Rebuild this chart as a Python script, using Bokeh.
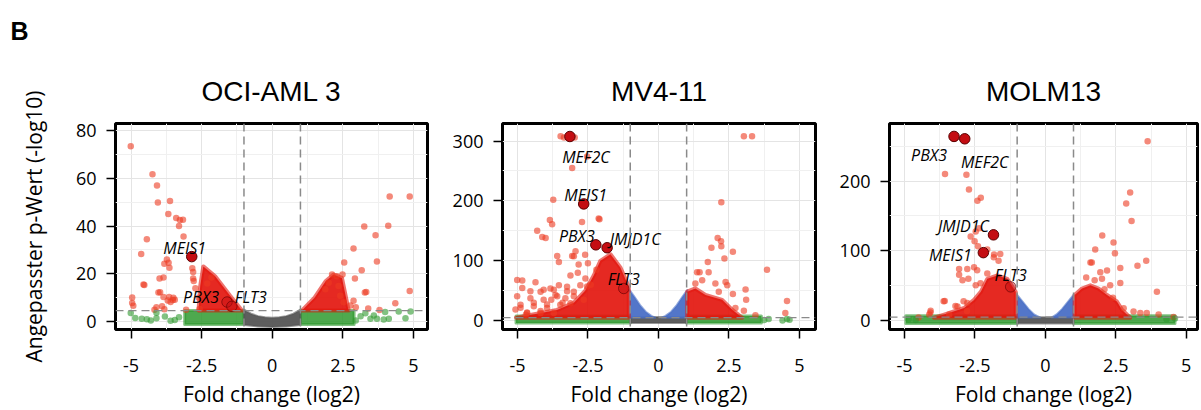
from bokeh.plotting import figure
from bokeh.models import FixedTicker, Span, Title, ColumnDataSource, Range1d
from bokeh.layouts import row
from bokeh.embed import file_html
from bokeh.resources import INLINE
from bokeh.core.properties import value

# ---------------- data ----------------
panel_letter = "B"
panel_titles = ["OCI-AML 3", "MV4-11", "MOLM13"]
x_label = "Fold change (log2)"
y_label = "Angepasster p-Wert (-log10)"
x_ticks = [-5, -2.5, 0, 2.5, 5]
x_tick_labels = ["-5", "-2.5", "0", "2.5", "5"]
x_minor = [-3.75, -1.25, 1.25, 3.75]
oci_y_ticks = [0, 20, 40, 60, 80]
oci_y_minor = [10, 30, 50, 70]
mv4_y_ticks = [0, 100, 200, 300]
mv4_y_minor = [50, 150, 250]
molm_y_ticks = [0, 100, 200]
molm_y_minor = [50, 150, 250]
fc_cutoff = 1.0
p_cutoff = [4.6, 5.0, 5.0]

# OCI-AML 3 : significant single points (fold change, -log10 p)
oci_sig_fc = [-5.01, -4.24, -4.08, -4.05, -3.62, -3.68, -3.40, -3.27, -3.16, -3.30,
              -4.44, -4.64, -3.82, -3.64, -2.80, -2.80, -3.99, -4.53, -4.03, -3.85,
              -3.65, -3.50, -3.45, -4.96, -4.96, -4.10, -3.90, -3.14, -3.73, -3.67,
              -3.85, -4.56, -3.97, -3.70, -3.60, -3.52, -4.92, -4.17, -3.82, -3.05,
              -2.57, -2.83, -2.78, -2.72, -2.60, -2.45, -2.30, -2.15,
              4.16, 4.87, 3.26, 4.11, 3.66, 2.88, 2.55, 3.71, 3.17, 2.93,
              2.49, 3.33, 3.28, 4.87, 2.88, 4.36, 3.40, 2.96, 3.80, 2.12,
              2.29, 2.35, 2.41, 2.53, 2.77, 2.00, 1.88]
oci_sig_p = [73.4, 61.7, 57.0, 49.8, 50.5, 45.0, 43.4, 42.5, 42.6, 40.0,
             34.5, 28.3, 24.2, 22.5, 20.8, 18.0, 18.0, 15.3, 12.2, 10.3,
             10.3, 10.0, 9.2, 10.1, 7.8, 6.0, 6.4, 35.6, 26.0, 24.6,
             18.5, 15.5, 12.3, 8.8, 8.2, 9.0, 6.6, 5.0, 5.2, 5.0,
             5.3, 22.3, 17.0, 14.0, 10.0, 12.0, 16.0, 18.5,
             52.4, 52.4, 39.8, 40.1, 36.1, 30.6, 24.7, 25.2, 21.5, 18.0,
             19.7, 12.4, 12.2, 12.8, 8.7, 7.7, 5.5, 6.0, 4.9, 19.7,
             19.0, 14.9, 10.8, 8.1, 6.7, 16.3, 13.5]
oci_ns_fc = [-5.01, -4.85, -4.62, -4.44, -4.10, -4.10, -3.80, -3.45, -3.30, -3.60, -4.30,
             3.48, 3.71, 3.95, 4.13, 4.48, 4.72, 4.90, 3.13, 2.96, 3.30, 3.60, 4.00]
oci_ns_p = [3.6, 1.5, 1.2, 1.0, 1.4, 3.7, 2.1, 0.7, 1.8, 0.4, 0.5,
            1.2, 1.2, 0.9, 1.2, 4.2, 1.4, 4.2, 2.2, 0.5, 3.5, 2.6, 4.0]
# OCI-AML 3 : outlines of the densely packed point clouds
oci_red_left_x = [-2.44, -2.02, -1.49, -1.07, -2.61, -2.55]
oci_red_left_y = [23.1, 19.0, 10.8, 4.6, 4.6, 14.9]
oci_red_right_x = [1.05, 1.50, 1.90, 2.17, 2.47, 2.71]
oci_red_right_y = [4.6, 10.0, 17.0, 19.7, 18.3, 4.6]
oci_green_left_x = [-3.1, -1.0, -1.0, -3.1]
oci_green_right_x = [1.0, 2.9, 2.9, 1.0]
oci_green_y = [-1.2, -1.2, 4.6, 4.6]
oci_grey_x = [-1.0, -0.75, -0.5, -0.25, 0.0, 0.25, 0.5, 0.75, 1.0, 1.0, 0.5, 0.0, -0.5, -1.0]
oci_grey_y = [5.0, 3.3, 2.3, 1.8, 1.6, 1.8, 2.3, 3.3, 5.0, -1.4, -2.0, -2.3, -2.0, -1.4]
oci_genes = ["MEIS1", "PBX3", "FLT3"]
oci_gene_fc = [-2.85, -1.60, -1.43]
oci_gene_p = [27.2, 8.2, 6.4]

# MV4-11
mv4_sig_fc = [-3.47, -3.35, -2.97, -2.53, -3.06, -3.73, -2.12, -3.85, -3.77, -4.30,
              -4.12, -3.59, -3.53, -3.06, -2.94, -3.12, -2.86, -4.83, -4.36, -2.71,
              -2.09, -4.00, -3.00, -2.83, -2.60, -2.50, -2.59, -2.53, -5.01, -4.83,
              -5.01, -4.54, -4.07, -3.71, -3.59, -3.24, -3.00, -4.42, -3.95, -4.89,
              -4.66, -4.18, -3.40, -3.80, -4.70, -2.40, -2.20,
              -4.18, -3.83, -3.53, -3.24, -4.54, -4.07, -3.65, -3.30, -3.00, -2.77,
              -4.89, -4.42, -3.95, -3.48, -3.12, -2.65, -4.18, -3.71, -4.66, -5.07,
              3.03, 3.32, 2.23, 2.10, 2.22, 2.23, 1.88, 2.64, 2.34, 1.75,
              3.85, 1.37, 1.46, 1.78, 1.31, 1.55, 2.02, 2.14, 2.38, 2.44,
              2.64, 3.09, 3.11, 4.56, 3.03, 3.44, 4.50, 2.73]
mv4_sig_p = [308, 306, 306, 274, 255, 202, 170.7, 168, 161, 150,
             139.7, 108, 98, 108, 116, 75.5, 80, 67, 64, 164.7,
             169.6, 138, 107.6, 94, 110, 96, 70.6, 57, 68, 54.4,
             40.8, 49, 51.6, 51.6, 40.8, 49, 40.8, 30, 27, 21.7,
             13.6, 16.3, 30, 35, 10, 60, 85,
             48.4, 53.8, 59.2, 56.5, 37.5, 34.8, 43, 37.5, 48.4, 59.2,
             26.6, 24, 21.2, 26.6, 29.3, 34.8, 13, 13, 13, 18.5,
             308, 308, 198, 138, 132.6, 124.4, 121.8, 115, 103.8, 98,
             85, 81, 81, 81, 62, 67.4, 62, 48.4, 64.7, 59.2,
             44.5, 52.2, 34.8, 33.1, 16.8, 9.2, 13, 21]
mv4_ns_fc = [3.91, 4.56, 4.65, 3.75, 4.40]
mv4_ns_p = [2.7, 2.7, 1.5, 1.0, 0.5]
mv4_red_left_x = [-1.05, -1.05, -1.35, -1.70, -2.06, -2.30, -2.60, -3.00, -3.60, -4.50, -5.05]
mv4_red_left_y = [5, 56.5, 89, 111, 100, 75, 50, 30, 18, 10, 5]
mv4_red_right_x = [1.02, 1.02, 1.31, 1.67, 2.26, 2.61, 2.97]
mv4_red_right_y = [5, 48.4, 53.8, 43, 34.8, 18.5, 5]
mv4_blue_left_x = [-1.02, -1.02, -0.85, -0.65, -0.45, -0.25, -0.12]
mv4_blue_left_y = [5, 51, 40, 26, 15, 8, 5]
mv4_blue_right_x = [0.12, 0.25, 0.45, 0.65, 0.85, 1.02, 1.02]
mv4_blue_right_y = [5, 8, 15, 26, 40, 51, 5]
mv4_grey_x = [-1.0, 1.0, 1.0, -1.0]
mv4_grey_y = [-4, -4, 6, 6]
mv4_green_left_x = [-5.05, -1.0, -1.0, -5.05]
mv4_green_right_x = [1.0, 3.65, 3.65, 1.0]
mv4_green_y = [-4, -4, 8, 8]
mv4_genes = ["MEF2C", "MEIS1", "PBX3", "JMJD1C", "FLT3"]
mv4_gene_fc = [-3.14, -2.65, -2.22, -1.82, -1.23]
mv4_gene_p = [307.6, 195, 126.7, 121.8, 53.8]

# MOLM13
molm_sig_fc = [-3.56, -2.80, -2.71, -2.41, -2.29, -2.47, -2.35, -2.65, -2.51, -2.39,
               -2.06, -1.82, -3.06, -3.06, -2.77, -2.53, -2.94, -2.73, -2.47, -3.57,
               -3.12, -2.77, -4.07, -4.12, -3.41, -3.61, -3.19, -2.78, -4.50, -4.08,
               -2.30, -2.06, -2.42, -1.66, -1.60, -1.83, -2.90,
               3.63, 3.01, 2.87, 3.06, 2.02, 2.42, 1.77, 2.47, 1.60, 1.65,
               2.66, 3.27, 3.58, 1.95, 2.19, 2.66, 2.30, 2.01, 3.96, 2.78,
               3.37, 3.60, 4.02, 4.55, 3.13, 1.45, 1.75, 2.10, 2.40]
molm_sig_p = [210, 209, 188, 172, 176, 127.7, 132.4, 120.7, 113.7, 106.7,
              102, 95, 74, 65.7, 74, 76.5, 57.8, 60, 50.8, 28.4,
              20.5, 25.2, 14.4, 8.8, 8.8, 28, 21, 14, 4.7, 11.7,
              53.5, 67.5, 72.3, 86, 95.5, 91, 28,
              257, 183.6, 168, 143, 122, 112, 102, 96.5, 83.5, 83.5,
              75.5, 78.8, 85.8, 69.5, 71.8, 54, 50.8, 60, 41.4, 18,
              11, 11, 8.8, 5.2, 13.3, 62, 58, 45, 33]
molm_ns_fc = [-4.85, -4.60, 4.60, 4.30]
molm_ns_p = [2.0, 1.0, 3.0, 2.0]
molm_red_left_x = [-1.05, -1.05, -1.35, -1.70, -2.06, -2.29, -2.53, -2.88, -3.59, -3.95]
molm_red_left_y = [4.2, 41.4, 60, 64.8, 60, 41.4, 29.8, 18.2, 8.8, 4.2]
molm_red_right_x = [1.04, 1.04, 1.30, 1.60, 1.89, 2.19, 2.54, 2.72, 3.01]
molm_red_right_y = [4.2, 36.8, 46, 50.8, 46, 36.8, 27.5, 15.8, 4.2]
molm_blue_left_x = [-1.0, -1.0, -0.8, -0.6, -0.4, -0.18]
molm_blue_left_y = [4.5, 37, 27, 17, 9, 4.5]
molm_blue_right_x = [0.22, 0.4, 0.6, 0.8, 1.0, 1.0]
molm_blue_right_y = [4.5, 9, 17, 27, 37, 4.5]
molm_grey_x = [-1.0, 1.0, 1.0, -1.0]
molm_grey_y = [-4, -4, 5, 5]
molm_green_left_x = [-4.95, -1.0, -1.0, -4.95]
molm_green_right_x = [1.0, 4.6, 4.6, 1.0]
molm_green_y = [-4, -4, 7, 7]
molm_genes = ["PBX3", "MEF2C", "JMJD1C", "MEIS1", "FLT3"]
molm_gene_fc = [-3.24, -2.86, -1.84, -2.20, -1.23]
molm_gene_p = [264, 260.6, 123, 97.5, 48.5]

# ---------------- styling ----------------
TITLE_FONT = "Liberation Sans"
FONT = "Open Sans"
RED_DENSE = "#e3170f"
RED_PT = "#ec3a22"
GREEN = "#2f9a2f"
BLUE = "#4a6fc6"
GREY = "#555555"
HILITE = "#c40d12"
HILITE_LINE = "#5a0000"

# label offsets (screen px) and faint highlights, per panel
label_offsets = [
    {"MEIS1": (-7, -9), "PBX3": (-26, -5), "FLT3": (19, -9)},
    {"MEF2C": (16, 21), "MEIS1": (2, -9), "PBX3": (-19, -9), "JMJD1C": (28, -9), "FLT3": (0, -9)},
    {"PBX3": (-25, 19), "MEF2C": (20, 23), "JMJD1C": (-30, -9), "MEIS1": (-33, 2), "FLT3": (0, -12)},
]
faint = [{"PBX3", "FLT3"}, {"FLT3"}, {"FLT3"}]

panels = [
    dict(xr=(-5.55, 5.50), yr=(-3.3, 82.9), yt=oci_y_ticks, ym=oci_y_minor,
         lb=115, rb=10, fw=312, title_off=6,
         sig=(oci_sig_fc, oci_sig_p), ns=(oci_ns_fc, oci_ns_p),
         red=[(oci_red_left_x, oci_red_left_y), (oci_red_right_x, oci_red_right_y)],
         blue=[],
         green=[(oci_green_left_x, oci_green_y), (oci_green_right_x, oci_green_y)],
         grey=(oci_grey_x, oci_grey_y),
         genes=(oci_genes, oci_gene_fc, oci_gene_p)),
    dict(xr=(-5.53, 5.57), yr=(-14.7, 329.3), yt=mv4_y_ticks, ym=mv4_y_minor,
         lb=65, rb=10, fw=313, title_off=6,
         sig=(mv4_sig_fc, mv4_sig_p), ns=(mv4_ns_fc, mv4_ns_p),
         red=[(mv4_red_left_x, mv4_red_left_y), (mv4_red_right_x, mv4_red_right_y)],
         blue=[(mv4_blue_left_x, mv4_blue_left_y), (mv4_blue_right_x, mv4_blue_right_y)],
         green=[(mv4_green_left_x, mv4_green_y), (mv4_green_right_x, mv4_green_y)],
         grey=(mv4_grey_x, mv4_grey_y),
         genes=(mv4_genes, mv4_gene_fc, mv4_gene_p)),
    dict(xr=(-5.53, 5.40), yr=(-12.6, 282.5), yt=molm_y_ticks, ym=molm_y_minor,
         lb=64, rb=3, fw=308, title_off=0,
         sig=(molm_sig_fc, molm_sig_p), ns=(molm_ns_fc, molm_ns_p),
         red=[(molm_red_left_x, molm_red_left_y), (molm_red_right_x, molm_red_right_y)],
         blue=[(molm_blue_left_x, molm_blue_left_y), (molm_blue_right_x, molm_blue_right_y)],
         green=[(molm_green_left_x, molm_green_y), (molm_green_right_x, molm_green_y)],
         grey=(molm_grey_x, molm_grey_y),
         genes=(molm_genes, molm_gene_fc, molm_gene_p)),
]

H = 410
TOP = 123
FH = 211


def style_title(t, size, style):
    t.text_font = TITLE_FONT
    t.text_font_size = size
    t.text_font_style = style
    t.text_color = "black"


figs = []
for i, cfg in enumerate(panels):
    W = cfg["lb"] + cfg["fw"] + cfg["rb"]
    p = figure(width=W, height=H, min_border_left=cfg["lb"], min_border_right=cfg["rb"],
               min_border_top=TOP, min_border_bottom=H - TOP - FH,
               x_range=Range1d(*cfg["xr"]), y_range=Range1d(*cfg["yr"]),
               toolbar_location=None, output_backend="svg")
    if i == 0:
        # outermost title = panel letter, panel name right above the frame
        p.title.text = panel_letter
        style_title(p.title, "25px", "bold")
        p.title.align = "left"
        p.title.offset = 10 - cfg["lb"]
        p.title.standoff = 24
        t = Title(text=panel_titles[i], align="center", offset=cfg["title_off"], standoff=34)
        style_title(t, "28px", "normal")
        p.add_layout(t, "above")
    else:
        p.title.text = panel_titles[i]
        style_title(p.title, "28px", "normal")
        p.title.align = "center"
        p.title.offset = cfg["title_off"]
        p.title.standoff = 34
    p.outline_line_color = "black"
    p.outline_line_width = 3
    p.outline_line_alpha = 1.0
    p.background_fill_color = "white"
    p.border_fill_color = "white"

    p.xaxis.ticker = FixedTicker(ticks=x_ticks, minor_ticks=x_minor)
    p.xaxis.major_label_overrides = {t: l for t, l in zip(x_ticks, x_tick_labels)}
    p.yaxis.ticker = FixedTicker(ticks=cfg["yt"], minor_ticks=cfg["ym"])
    for ax in (p.xaxis[0], p.yaxis[0]):
        ax.axis_line_color = None
        ax.major_tick_out = 9
        ax.major_tick_in = 0
        ax.minor_tick_out = 0
        ax.minor_tick_in = 0
        ax.major_tick_line_width = 1.5
        ax.major_tick_line_color = "black"
        ax.major_label_text_font = FONT
        ax.major_label_text_font_size = "18px"
        ax.major_label_text_color = "black"
        ax.axis_label_text_font = FONT
        ax.axis_label_text_font_size = "21px"
        ax.axis_label_text_font_style = "normal"
        ax.axis_label_text_color = "black"
    p.xaxis.major_label_standoff = 20
    p.yaxis.major_label_standoff = 10
    p.xaxis.axis_label = x_label
    p.xaxis.axis_label_standoff = 5
    if i == 0:
        p.yaxis.axis_label = y_label
        p.yaxis.axis_label_standoff = 25
    for g in (p.xgrid[0], p.ygrid[0]):
        g.grid_line_color = "#e4e4e4"
        g.grid_line_width = 1
        g.minor_grid_line_color = "#f0f0f0"
        g.minor_grid_line_width = 1

    # dense clouds
    for gx, gy in cfg["green"]:
        p.patch(gx, gy, fill_color=GREEN, fill_alpha=0.85, line_color=GREEN,
                line_width=3, line_alpha=0.6, line_join="round")
    gx, gy = cfg["grey"]
    p.patch(gx, gy, fill_color=GREY, fill_alpha=0.95, line_color=GREY,
            line_width=2, line_alpha=0.6, line_join="round")
    for bx, by in cfg["blue"]:
        p.patch(bx, by, fill_color=BLUE, fill_alpha=0.95, line_color=BLUE,
                line_width=2, line_alpha=0.6, line_join="round")
    for rx, ry in cfg["red"]:
        p.patch(rx, ry, fill_color=RED_DENSE, fill_alpha=0.92, line_color=RED_DENSE,
                line_width=4, line_alpha=0.6, line_join="round")

    # single points
    sfc, sp = cfg["sig"]
    p.scatter(sfc, sp, size=6.5, fill_color=RED_PT, fill_alpha=0.6, line_color=None)
    nfc, npv = cfg["ns"]
    p.scatter(nfc, npv, size=6.5, fill_color=GREEN, fill_alpha=0.6, line_color=None)

    # thresholds
    for loc in (-fc_cutoff, fc_cutoff):
        p.add_layout(Span(location=loc, dimension="height", line_color="#8a8a8a",
                          line_width=1.5, line_dash="8 5"))
    p.add_layout(Span(location=p_cutoff[i], dimension="width", line_color="#8a8a8a",
                      line_width=1.3, line_dash="8 5"))

    # highlighted genes
    names, gfc, gp = cfg["genes"]
    strong = [j for j, n in enumerate(names) if n not in faint[i]]
    weak = [j for j, n in enumerate(names) if n in faint[i]]
    if weak:
        p.scatter([gfc[j] for j in weak], [gp[j] for j in weak], size=10.5,
                  fill_color=HILITE, fill_alpha=0.45, line_color=HILITE_LINE,
                  line_alpha=0.6, line_width=1)
    p.scatter([gfc[j] for j in strong], [gp[j] for j in strong], size=10.5,
              fill_color=HILITE, fill_alpha=1.0, line_color=HILITE_LINE, line_width=1)
    src = ColumnDataSource(dict(
        x=gfc, y=gp, t=names,
        dx=[label_offsets[i][n][0] for n in names],
        dy=[label_offsets[i][n][1] for n in names]))
    p.text(x="x", y="y", text="t", x_offset="dx", y_offset="dy", source=src,
           text_font=value(FONT), text_font_size="16px", text_font_style="italic",
           text_align="center", text_baseline="alphabetic", text_color="black")
    figs.append(p)

layout = row(*figs, spacing=0)
open("out.html", "w").write(file_html(layout, INLINE))
